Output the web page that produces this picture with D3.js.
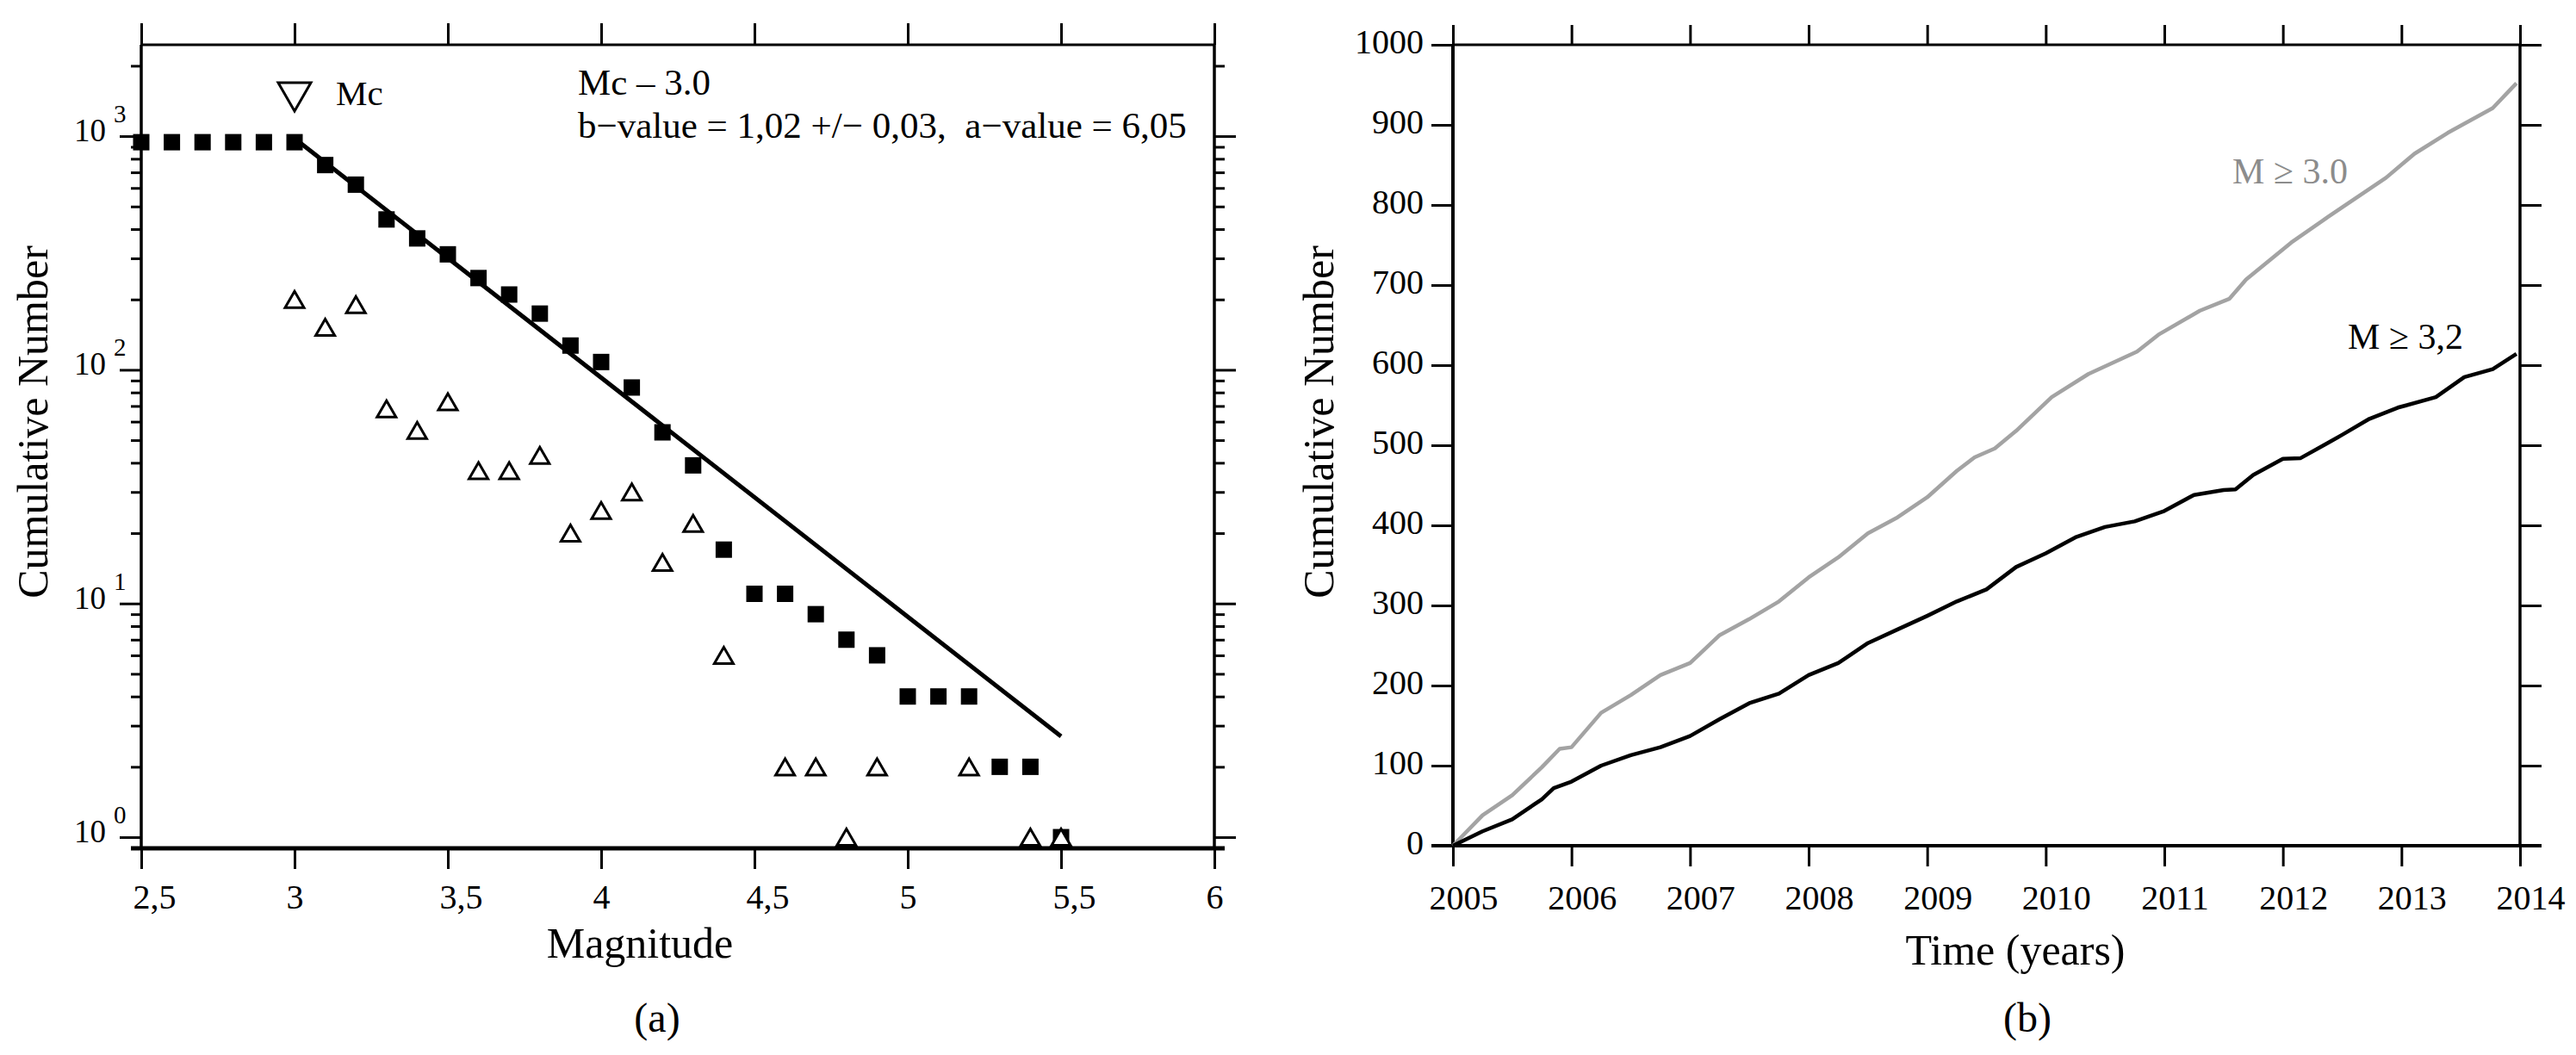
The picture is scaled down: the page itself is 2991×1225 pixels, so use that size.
<!DOCTYPE html>
<html>
<head>
<meta charset="utf-8">
<script src="https://cdn.jsdelivr.net/npm/d3@7"></script>
<style>
  html, body { margin: 0; padding: 0; background: #fff; }
  svg, svg text { font-family: "Liberation Serif", "Times New Roman", serif; }
  svg { display: block; }
</style>
</head>
<body>
<div id="root"></div>
<script>
// ---- panel (a): Gutenberg-Richter ----
const magnitudes = [2.5, 2.6, 2.7, 2.8, 2.9, 3.0, 3.1, 3.2, 3.3, 3.4, 3.5, 3.6, 3.7, 3.8, 3.9,
  4.0, 4.1, 4.2, 4.3, 4.4, 4.5, 4.6, 4.7, 4.8, 4.9, 5.0, 5.1, 5.2, 5.3, 5.4, 5.5];
const cumulativeN = [942, 942, 942, 942, 942, 942, 752, 620, 440, 365, 312, 247, 210, 174, 127,
  108, 84, 54, 39, 17, 11, 11, 9, 7, 6, 4, 4, 4, 2, 2, 1];
const binM = [3.0, 3.1, 3.2, 3.3, 3.4, 3.5, 3.6, 3.7, 3.8, 3.9, 4.0, 4.1, 4.2, 4.3, 4.4,
  4.6, 4.7, 4.8, 4.9, 5.2, 5.4, 5.5];
const binN = [200, 152, 190, 68, 55, 73, 37, 37, 43, 20, 25, 30, 15, 22, 6,
  2, 2, 1, 2, 2, 1, 1];
const fitM = [3.0, 5.5];
const fitN = [977, 2.7];
const mcPoint = [3.0, 1480];
const magDomain = [2.5, 6];
const countDomain = [0.896, 2460];
const magTicks = [2.5, 3, 3.5, 4, 4.5, 5, 5.5, 6];
const magTickLabels = ['2,5', '3', '3,5', '4', '4,5', '5', '5,5', '6'];
const countMajor = [1, 10, 100, 1000];

// ---- panel (b): cumulative number vs time ----
const yearDomain = [2005, 2014];
const yearTicks = [2005, 2006, 2007, 2008, 2009, 2010, 2011, 2012, 2013, 2014];
const numTicks = [0, 100, 200, 300, 400, 500, 600, 700, 800, 900, 1000];
const t30 = [2005.0, 2005.25, 2005.5, 2005.75, 2005.9, 2006.0, 2006.25, 2006.5, 2006.75, 2007.0,
  2007.25, 2007.5, 2007.75, 2008.0, 2008.25, 2008.5, 2008.75, 2009.0, 2009.25, 2009.4, 2009.57,
  2009.75, 2010.05, 2010.36, 2010.77, 2010.95, 2011.3, 2011.55, 2011.69, 2012.07, 2012.38,
  2012.87, 2013.11, 2013.39, 2013.77, 2013.97];
const n30 = [0, 38, 63, 98, 121, 123, 166, 188, 213, 228,
  263, 283, 305, 335, 360, 390, 410, 435, 468, 485, 496,
  518, 560, 589, 617, 638, 668, 683, 707, 753, 785,
  834, 864, 890, 921, 952];
const t32 = [2005.0, 2005.25, 2005.5, 2005.75, 2005.85, 2006.0, 2006.25, 2006.5, 2006.75, 2007.0,
  2007.25, 2007.5, 2007.75, 2008.0, 2008.25, 2008.5, 2008.75, 2009.0, 2009.25, 2009.5,
  2009.75, 2010.0, 2010.25, 2010.5, 2010.75, 2011.0, 2011.25, 2011.5, 2011.6, 2011.75,
  2012.0, 2012.15, 2012.38, 2012.5, 2012.73, 2012.97, 2013.29, 2013.53, 2013.77, 2013.97];
const n32 = [0, 18, 33, 58, 72, 80, 100, 113, 123, 137,
  158, 178, 190, 213, 228, 253, 270, 287, 305, 320,
  348, 365, 385, 398, 405, 418, 438, 444, 445, 463,
  483, 484, 503, 513, 533, 547, 560, 585, 595, 614];

const W = 2991, H = 1225;
const FS_TICK = 40, FS_TITLE = 50;
const SERIF = '"Liberation Serif", "Times New Roman", serif';

const svg = d3.select('#root').append('svg')
  .attr('width', W).attr('height', H).attr('viewBox', `0 0 ${W} ${H}`)
  .attr('font-family', SERIF);

// helper: strip axis path and the axis' own font, thicken ticks
const styleAxis = (g, w) => {
  g.attr('font-family', SERIF).attr('font-size', FS_TICK);
  g.select('.domain').remove();
  g.selectAll('.tick line').attr('stroke', '#000').attr('stroke-width', w);
  g.selectAll('.tick text').attr('fill', '#000')
    .attr('font-size', FS_TICK).attr('font-family', SERIF);
};

// ================= panel (a) =================
const A = { x0: 164, x1: 1410, y0: 52, y1: 985 };
const xA = d3.scaleLinear().domain(magDomain).range([A.x0, A.x1]);
const yA = d3.scaleLog().domain(countDomain).range([A.y1, A.y0]);
const allCountTicks = yA.ticks().filter(d => d >= countDomain[0] && d <= countDomain[1]);
const isMajor = d => countMajor.includes(d);

const gA = svg.append('g');

// bottom axis
const bottomA = gA.append('g').attr('transform', `translate(0,${A.y1})`)
  .call(d3.axisBottom(xA).tickValues(magTicks).tickSize(24).tickFormat((d, i) => magTickLabels[i]));
styleAxis(bottomA, 3);
bottomA.selectAll('.tick text')
  .attr('y', 70).attr('dy', null).attr('x', -10)
  .attr('text-anchor', 'start');

// top axis
const topA = gA.append('g').attr('transform', `translate(0,${A.y0})`)
  .call(d3.axisTop(xA).tickValues(magTicks).tickSize(25).tickFormat(''));
styleAxis(topA, 3);

// left / right log axes
const leftA = gA.append('g').attr('transform', `translate(${A.x0},0)`)
  .call(d3.axisLeft(yA).tickValues(allCountTicks).tickSize(12).tickFormat(''));
styleAxis(leftA, 3);
leftA.selectAll('.tick line').attr('x2', d => isMajor(d) ? -25 : -12);

const rightA = gA.append('g').attr('transform', `translate(${A.x1},0)`)
  .call(d3.axisRight(yA).tickValues(allCountTicks).tickSize(12).tickFormat(''));
styleAxis(rightA, 3);
rightA.selectAll('.tick line').attr('x2', d => isMajor(d) ? 25 : 12);

// 10^n labels
const powLabels = gA.selectAll('text.pow').data(countMajor).enter().append('text')
  .attr('class', 'pow')
  .attr('x', 86)
  .attr('y', d => yA(d) + 6)
  .attr('font-size', 37);
powLabels.append('tspan').text('10');
powLabels.append('tspan').attr('dx', 9).attr('dy', -22).attr('font-size', 29)
  .text(d => String(Math.round(Math.log10(d))));

// frame
gA.append('line').attr('x1', A.x0).attr('x2', A.x1).attr('y1', A.y0).attr('y2', A.y0)
  .attr('stroke', '#000').attr('stroke-width', 3);
gA.append('line').attr('x1', A.x0 - 12).attr('x2', A.x1 + 12).attr('y1', A.y1).attr('y2', A.y1)
  .attr('stroke', '#000').attr('stroke-width', 5);
gA.append('line').attr('x1', A.x0).attr('x2', A.x0).attr('y1', A.y0).attr('y2', A.y1)
  .attr('stroke', '#000').attr('stroke-width', 3.5);
gA.append('line').attr('x1', A.x1).attr('x2', A.x1).attr('y1', A.y0).attr('y2', A.y1)
  .attr('stroke', '#000').attr('stroke-width', 3.5);

// fit line
gA.append('path')
  .datum(d3.zip(fitM, fitN))
  .attr('d', d3.line().x(d => xA(d[0])).y(d => yA(d[1])))
  .attr('fill', 'none').attr('stroke', '#000').attr('stroke-width', 5);

// cumulative (filled squares)
const SQ = 19;
gA.selectAll('rect.sq').data(d3.zip(magnitudes, cumulativeN)).enter().append('rect')
  .attr('class', 'sq')
  .attr('x', d => xA(d[0]) - SQ / 2).attr('y', d => yA(d[1]) - SQ / 2)
  .attr('width', SQ).attr('height', SQ).attr('fill', '#000');

// non-cumulative (open triangles)
const triPath = 'M0,-9.5 L11,9.5 L-11,9.5 Z';
gA.selectAll('path.tri').data(d3.zip(binM, binN)).enter().append('path')
  .attr('class', 'tri')
  .attr('d', triPath)
  .attr('transform', d => `translate(${xA(d[0])},${yA(d[1])})`)
  .attr('fill', '#fff').attr('stroke', '#000').attr('stroke-width', 3);

// Mc marker
gA.append('path')
  .attr('d', 'M-19,-16 L19,-16 L0,17 Z')
  .attr('transform', `translate(${xA(mcPoint[0])},${yA(mcPoint[1])})`)
  .attr('fill', 'none').attr('stroke', '#000').attr('stroke-width', 3);
gA.append('text').attr('x', 390).attr('y', 122).attr('font-size', 41).text('Mc');

gA.append('text').attr('x', 671).attr('y', 110).attr('font-size', 43).text('Mc – 3.0');
gA.append('text').attr('x', 671).attr('y', 160).attr('font-size', 43)
  .attr('xml:space', 'preserve')
  .text('b−value = 1,02 +/− 0,03,  a−value = 6,05');

// titles
gA.append('text').attr('x', 743).attr('y', 1112).attr('text-anchor', 'middle')
  .attr('font-size', FS_TITLE).text('Magnitude');
gA.append('text').attr('transform', 'translate(55,490) rotate(-90)').attr('text-anchor', 'middle')
  .attr('font-size', FS_TITLE).text('Cumulative Number');
gA.append('text').attr('x', 763).attr('y', 1198).attr('text-anchor', 'middle')
  .attr('font-size', 48).text('(a)');

// ================= panel (b) =================
const B = { x0: 1687, x1: 2926, y0: 52, y1: 982 };
const xB = d3.scaleLinear().domain(yearDomain).range([B.x0, B.x1]);
const yB = d3.scaleLinear().domain([0, 1000]).range([B.y1, B.y0]);

const gB = svg.append('g');

const bottomB = gB.append('g').attr('transform', `translate(0,${B.y1})`)
  .call(d3.axisBottom(xB).tickValues(yearTicks).tickSize(24).tickFormat(d3.format('d')));
styleAxis(bottomB, 3);
bottomB.selectAll('.tick text')
  .attr('y', 74).attr('dy', null).attr('x', 12);

const topB = gB.append('g').attr('transform', `translate(0,${B.y0})`)
  .call(d3.axisTop(xB).tickValues(yearTicks).tickSize(23).tickFormat(''));
styleAxis(topB, 3);

const leftB = gB.append('g').attr('transform', `translate(${B.x0},0)`)
  .call(d3.axisLeft(yB).tickValues(numTicks).tickSize(25).tickFormat(d3.format('d')));
styleAxis(leftB, 3);
leftB.selectAll('.tick text')
  .attr('x', -34).attr('dy', null).attr('y', 9);

const rightB = gB.append('g').attr('transform', `translate(${B.x1},0)`)
  .call(d3.axisRight(yB).tickValues(numTicks).tickSize(25).tickFormat(''));
styleAxis(rightB, 3);

// frame
gB.append('line').attr('x1', B.x0).attr('x2', B.x1).attr('y1', B.y0).attr('y2', B.y0)
  .attr('stroke', '#000').attr('stroke-width', 3);
gB.append('line').attr('x1', B.x0 - 25).attr('x2', B.x1 + 25).attr('y1', B.y1).attr('y2', B.y1)
  .attr('stroke', '#000').attr('stroke-width', 4);
gB.append('line').attr('x1', B.x0).attr('x2', B.x0).attr('y1', B.y0).attr('y2', B.y1)
  .attr('stroke', '#000').attr('stroke-width', 4);
gB.append('line').attr('x1', B.x1).attr('x2', B.x1).attr('y1', B.y0).attr('y2', B.y1)
  .attr('stroke', '#000').attr('stroke-width', 3.5);

const lineB = d3.line().x(d => xB(d[0])).y(d => yB(d[1]));
gB.append('path').datum(d3.zip(t30, n30)).attr('d', lineB)
  .attr('fill', 'none').attr('stroke', '#a3a3a3').attr('stroke-width', 4.5)
  .attr('stroke-linejoin', 'round');
gB.append('path').datum(d3.zip(t32, n32)).attr('d', lineB)
  .attr('fill', 'none').attr('stroke', '#000').attr('stroke-width', 4.5)
  .attr('stroke-linejoin', 'round');

gB.append('text').attr('x', 2592).attr('y', 213).attr('font-size', 42).attr('fill', '#8c8c8c')
  .text('M ≥ 3.0');
gB.append('text').attr('x', 2726).attr('y', 405).attr('font-size', 42).attr('fill', '#000')
  .text('M ≥ 3,2');

gB.append('text').attr('x', 2340).attr('y', 1120).attr('text-anchor', 'middle')
  .attr('font-size', FS_TITLE).text('Time (years)');
gB.append('text').attr('transform', 'translate(1548,490) rotate(-90)').attr('text-anchor', 'middle')
  .attr('font-size', FS_TITLE).text('Cumulative Number');
gB.append('text').attr('x', 2354).attr('y', 1198).attr('text-anchor', 'middle')
  .attr('font-size', 48).text('(b)');
</script>
</body>
</html>
